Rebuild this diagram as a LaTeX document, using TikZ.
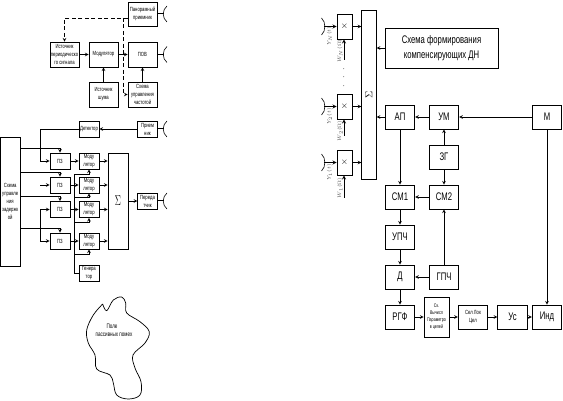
\documentclass[tikz,border=0pt]{standalone}
\usepackage{fontspec}
\usepackage{amsmath}
\setmainfont[FakeStretch=0.7]{Liberation Sans}

\begin{document}
\begin{tikzpicture}[x=1pt,y=-1pt,>=stealth,line width=0.6pt,
    sbox/.style={draw,line width=0.9pt,inner sep=0pt,align=center,font=\fontsize{6}{8}\selectfont},
    bbox/.style={draw,line width=0.9pt,inner sep=0pt,align=center,font=\fontsize{11}{15}\selectfont,minimum width=29.5pt,minimum height=24pt},
    dashline/.style={dashed,dash pattern=on 4pt off 2.5pt,->},
    siglabel/.style={rotate=90,text=black!70,inner sep=0pt,font=\fontsize{4}{5}\selectfont}]
    \useasboundingbox (0,0) rectangle (563,401);

    % Upper left scheme
    \node[sbox,minimum width=29pt,minimum height=24pt] (pan) at (142.5,14) {Панорамный\\приемник};
    \node[sbox,minimum width=29pt,minimum height=25pt] (ist) at (64.5,54.5) {Источник\\периодическо\\го сигнала};
    \node[sbox,minimum width=29pt,minimum height=25pt] (mod) at (103.5,54.5) {Модулятор};
    \node[sbox,minimum width=29pt,minimum height=25pt] (pov) at (142.5,54.5) {ПОВ};
    \node[sbox,minimum width=29pt,minimum height=25pt] (shum) at (103.5,94.5) {Источник\\шума};
    \node[sbox,minimum width=29pt,minimum height=25pt] (upr) at (142.5,94.5) {Схема\\управления\\частотой};
    \coordinate (dtop) at (123,18);

    \draw[dashline] ([yshift=-4pt]pan.west) -| (ist.north);
    \draw[dashline] (dtop) |- (upr.west);
    \draw[->] (ist) -- (mod);
    \draw[->] (mod) -- (pov);
    \draw[->] (shum) -- (mod);
    \draw[->] (upr) -- (pov);

    % Lower left scheme
    \node[sbox,minimum width=19.5pt,minimum height=129pt] (zad) at (10.2,201.5) {Схема\\управле\\ния\\задержк\\ой};
    \node[sbox,minimum width=20pt,minimum height=16pt] (det) at (89,129) {Детектор};
    \node[sbox,minimum width=19.5pt,minimum height=16pt] (pri) at (147.5,129) {Прием\\ник};
    \node[sbox,minimum width=20pt,minimum height=16pt] (pz1) at (60,161) {ПЗ};
    \node[sbox,minimum width=20pt,minimum height=16pt] (pz2) at (60,185) {ПЗ};
    \node[sbox,minimum width=20pt,minimum height=16pt] (pz3) at (60,209.5) {ПЗ};
    \node[sbox,minimum width=20pt,minimum height=16pt] (pz4) at (60,241) {ПЗ};
    \node[sbox,minimum width=20pt,minimum height=16pt] (md1) at (89,161) {Моду\\лятор};
    \node[sbox,minimum width=20pt,minimum height=16pt] (md2) at (89,185) {Моду\\лятор};
    \node[sbox,minimum width=20pt,minimum height=16pt] (md3) at (89,209.5) {Моду\\лятор};
    \node[sbox,minimum width=20pt,minimum height=16pt] (md4) at (89,241) {Моду\\лятор};
    \node[draw,line width=0.9pt,inner sep=0pt,minimum width=20pt,minimum height=96pt,font=\Large] (sum) at (118,201) {\scalebox{0.6}[1]{$\Sigma$}};
    \node[sbox,minimum width=19.5pt,minimum height=16pt] (per) at (147.5,201) {Переда\\тчик};
    \node[sbox,minimum width=20pt,minimum height=16pt] (gen) at (89,273) {Генера\\тор};
    \coordinate (busd) at (40,129);
    \coordinate (busg) at (74,174);

    \draw[->] (pri) -- (det);
    \draw[->] (det.west) -| (40,161) -- (pz1.west);
    \draw[->] (busd |- pz2.west) -- (pz2.west);
    \draw[->] (busd |- pz3.west) -- (pz3.west);
    \draw (busd |- pz3.west) -- (busd |- pz4.west);
    \draw[->] (busd |- pz4.west) -- (pz4.west);

    \draw[->] (zad.east |- 0,148) -| (pz1.north);
    \draw[->] (zad.east |- 0,172) -| (pz2.north);
    \draw[->] (zad.east |- 0,196) -| (pz3.north);
    \draw[->] (zad.east |- 0,228) -| (pz4.north);

    \draw[->] (pz1) -- (md1);
    \draw[->] (pz2) -- (md2);
    \draw[->] (pz3) -- (md3);
    \draw[->] (pz4) -- (md4);
    \draw[->] (md1) -- (md1 -| sum.west);
    \draw[->] (md2) -- (md2 -| sum.west);
    \draw[->] (md3) -- (md3 -| sum.west);
    \draw[->] (md4) -- (md4 -| sum.west);
    \draw[->] (sum.east |- per.west) -- (per.west);

    \draw (gen.west) -| (busg);
    \draw[->] (busg) -| (md1.south);
    \draw[->] (busg |- 0,197) -| (md2.south);
    \draw[->] (busg |- 0,222) -| (md3.south);
    \draw[->] (busg |- 0,254) -| (md4.south);

    % Antennas of the left schemes
    \coordinate (aa) at (163.5,14);
    \coordinate (ab) at (163.5,54.5);
    \coordinate (ac) at (163.5,129);
    \coordinate (ad) at (163.5,201);
    \draw[line width=1pt] (pan.east) -- (aa);
    \draw[line width=1pt] (pov.east) -- (ab);
    \draw[line width=1pt] (pri.east) -- (ac);
    \draw[line width=1pt] (per.east) -- (ad);
    \foreach \a in {aa,ab,ac,ad}
        \draw (\a) ++(3.5,-8) .. controls +(-5,4) and +(-5,-4) .. ++(0,16);

    % Field
    \draw[line width=0.7pt] plot[smooth,tension=0.6] coordinates {(102.7,304) (106.7,310.7) (113.3,300) (121.7,297) (125.7,303) (126.7,313) (140,321.7) (149.3,331.7) (145,343) (133,355) (135,368) (141,381.7) (140,395) (128.3,399) (116.7,395) (113.3,383) (110,375) (96.7,369) (95,355) (88.3,343) (86.7,330) (93.3,315) (102.7,304)};
    \node[inner sep=0pt,font=\fontsize{6.5}{7}\selectfont] (pole) at (112,326.5) {Поле};
    \node[inner sep=0pt,font=\fontsize{6.5}{7}\selectfont] (pom) at (114,335) {пассивных помех};

    % Right scheme
    \node[draw,line width=0.9pt,inner sep=0pt,minimum width=14.5pt,minimum height=169pt,font=\normalsize] (sumr) at (369,94.5) {\rotatebox{90}{$\Sigma$}};
    \node[sbox,minimum width=15pt,minimum height=25pt,font=\small] (x1) at (344.5,26.5) {$\times$};
    \node[sbox,minimum width=15pt,minimum height=25pt,font=\small] (x2) at (344.5,106.5) {$\times$};
    \node[sbox,minimum width=15pt,minimum height=25pt,font=\small] (x3) at (344.5,162.5) {$\times$};
    \node[bbox,minimum width=113pt,minimum height=40pt] (form) at (441.5,48) {Схема формирования\\компенсирующих ДН};
    \node[bbox] (ap) at (400,117) {АП};
    \node[bbox] (um) at (444,117) {УМ};
    \node[bbox] (m) at (547,117) {М};
    \node[bbox] (zg) at (444,157) {ЗГ};
    \node[bbox] (sm1) at (400,197) {СМ1};
    \node[bbox] (sm2) at (444,197) {СМ2};
    \node[bbox] (upch) at (400,237) {УПЧ};
    \node[bbox] (d) at (400,277) {Д};
    \node[bbox] (gpch) at (444,277) {ГПЧ};
    \node[bbox] (rgf) at (400,317) {РГФ};
    \node[sbox,minimum width=25pt,minimum height=40pt,font=\fontsize{5.2}{7}\selectfont] (sk) at (436.5,317) {Ск.\\Вычисл\\Параметро\\в целей};
    \node[sbox,minimum width=29.5pt,minimum height=24pt] (sel) at (473,317) {Сел Лок\\Цел};
    \node[bbox] (us) at (512.5,317) {Ус};
    \node[bbox] (ind) at (547,317) {Инд};

    \coordinate (w1) at (344,60);
    \coordinate (w2) at (344,136);
    \coordinate (w3) at (344,198);
    \coordinate (ra) at (324,26.5);
    \coordinate (rb) at (324,106.5);
    \coordinate (rc) at (324,162.5);

    \draw[->,line width=0.8pt] (ra) -- (x1);
    \draw[->,line width=0.8pt] (rb) -- (x2);
    \draw[->,line width=0.8pt] (rc) -- (x3);
    \foreach \a in {ra,rb,rc}
        \draw (\a) ++(-2.5,-8.5) .. controls +(4.5,4) and +(4.5,-4) .. ++(0,17);
    \draw[->] (x1) -- (x1 -| sumr.west);
    \draw[->] (x2) -- (x2 -| sumr.west);
    \draw[->] (x3) -- (x3 -| sumr.west);
    \draw[->,line width=0.8pt] (w1) -- (w1 |- x1.south);
    \draw[->,line width=0.8pt] (w2) -- (w2 |- x2.south);
    \draw[->,line width=0.8pt] (w3) -- (w3 |- x3.south);

    \node[siglabel] (y1) at (329.5,36) {$Y_N(t)$};
    \node[siglabel] (y2) at (329.5,116) {$Y_2(t)$};
    \node[siglabel] (y3) at (329.5,172) {$Y_1(t)$};
    \node[siglabel] (q1) at (340,51) {$W_N(\Omega)$};
    \node[siglabel] (q2) at (340,131) {$W_2(\Omega)$};
    \node[siglabel] (q3) at (340,188) {$W_1(\Omega)$};
    \node[font=\small,inner sep=0pt] (dots) at (344,77.5) {\rotatebox{90}{$\cdot\hspace{4pt}\cdot\hspace{4pt}\cdot$}};

    \draw[->] (form.west) -- (form.west -| sumr.east);
    \draw[->] (ap.west) -- (ap.west -| sumr.east);
    \draw[->] (um) -- (ap);
    \draw[->] (m) -- (um);
    \draw[->] (zg) -- (um);
    \draw[->] (zg) -- (sm2);
    \draw[->] (ap) -- (sm1);
    \draw[->] (sm2) -- (sm1);
    \draw[->] (sm1) -- (upch);
    \draw[->] (upch) -- (d);
    \draw[->] (gpch) -- (d);
    \draw[->] (gpch) -- (sm2);
    \draw[->] (d) -- (rgf);
    \draw[->] (rgf) -- (sk);
    \draw[->] (sk) -- (sel);
    \draw[->] (sel) -- (us);
    \draw[->] (us) -- (ind);
    \draw[->] (m) -- (ind);

\end{tikzpicture}
\end{document}
